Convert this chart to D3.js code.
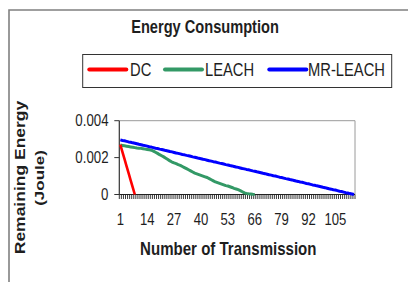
<!DOCTYPE html>
<html>
<head>
<meta charset="utf-8">
<script src="https://cdn.jsdelivr.net/npm/d3@7"></script>
<style>
body { margin: 0; background: #fff; }
svg { display: block; }
text { font-family: "Liberation Sans", Arial, sans-serif; fill: #1e1e1e; }
</style>
</head>
<body>
<svg id="myGraph" width="408" height="282"></svg>
<script>
// chart data
var categories = d3.range(1, 115);   // transmission number 1..114
var seriesNames = ["DC", "LEACH", "MR-LEACH"];
var seriesColors = ["#ff0000", "#339966", "#0000ff"];
var xTickLabels = [1, 14, 27, 40, 53, 66, 79, 92, 105];
var yTicks = [0, 0.002, 0.004];
var yTickLabels = ["0", "0.002", "0.004"];

var dcValues = [0.0027, 0.00231, 0.00193, 0.00154, 0.00116, 0.00077, 0.00039, 0];

var leachValues = [
  0.00268, 0.00266, 0.00264, 0.00262, 0.0026, 0.00258, 0.00256, 0.00254, 0.00252, 0.00251,
  0.0025, 0.00248, 0.00246, 0.00244, 0.00242, 0.0024, 0.00235, 0.00229, 0.00223, 0.00216,
  0.0021, 0.00204, 0.00197, 0.0019, 0.00182, 0.00176, 0.00171, 0.00167, 0.00162, 0.00158,
  0.00152, 0.00146, 0.0014, 0.00134, 0.00128, 0.00122, 0.00116, 0.00112, 0.00108, 0.00104,
  0.001, 0.00096, 0.00092, 0.00086, 0.0008, 0.00074, 0.00068, 0.00064, 0.0006, 0.00056,
  0.00052, 0.00048, 0.00046, 0.00042, 0.00038, 0.00033, 0.0003, 0.00026, 0.00021, 0.00015,
  0.00009, 0.00006, 0.00004, 0.00003, 0.00001, 0
];

var mrLeachValues = [
  0.00296, 0.00293, 0.00291, 0.00288, 0.00285, 0.00283, 0.0028, 0.00278, 0.00275, 0.00272,
  0.0027, 0.00267, 0.00265, 0.00262, 0.00259, 0.00257, 0.00254, 0.00251, 0.00249, 0.00246,
  0.00244, 0.00241, 0.00238, 0.00236, 0.00233, 0.00231, 0.00228, 0.00225, 0.00223, 0.0022,
  0.00217, 0.00215, 0.00212, 0.0021, 0.00207, 0.00204, 0.00202, 0.00199, 0.00196, 0.00194,
  0.00191, 0.00189, 0.00186, 0.00183, 0.00181, 0.00178, 0.00176, 0.00173, 0.0017, 0.00168,
  0.00165, 0.00162, 0.0016, 0.00157, 0.00155, 0.00152, 0.00149, 0.00147, 0.00144, 0.00141,
  0.00139, 0.00136, 0.00134, 0.00131, 0.00128, 0.00126, 0.00123, 0.00121, 0.00118, 0.00115,
  0.00113, 0.0011, 0.00107, 0.00105, 0.00102, 0.001, 0.00097, 0.00094, 0.00092, 0.00089,
  0.00086, 0.00084, 0.00081, 0.00079, 0.00076, 0.00073, 0.00071, 0.00068, 0.00066, 0.00063,
  0.0006, 0.00058, 0.00055, 0.00052, 0.0005, 0.00047, 0.00045, 0.00042, 0.00039, 0.00037,
  0.00034, 0.00031, 0.00029, 0.00026, 0.00024, 0.00021, 0.00018, 0.00016, 0.00013, 0.0001,
  0.00008, 0.00005, 0.00003, 0
];

var svg = d3.select("#myGraph");

// plot area
var plotLeft = 119.3, plotRight = 355, plotTop = 120.7, plotBottom = 194.5;

var xScale = d3.scaleBand().domain(categories).range([plotLeft, plotRight]);
var yScale = d3.scaleLinear().domain([0, 0.004]).range([plotBottom, plotTop]);
var bw = xScale.bandwidth();

// text that looks squeezed sideways like the source picture
function addText(x, y, str, size, bold, k, anchor, rotate) {
  var g = svg.append("g")
    .attr("transform", "translate(" + x + "," + y + ") scale(" + k + ",1)" + (rotate ? " rotate(-90)" : ""));
  g.append("text")
    .attr("text-anchor", anchor)
    .attr("font-size", size)
    .attr("font-weight", bold ? "bold" : "normal")
    .text(str);
  return g;
}

// outer frame (cropped)
svg.append("path")
  .attr("d", "M9,282 L9,10 L408,10")
  .attr("fill", "none")
  .attr("stroke", "#808080")
  .attr("stroke-width", 1.6);

// title
addText(205, 33, "Energy Consumption", 18.5, true, 0.79, "middle");

// legend
svg.append("rect")
  .attr("x", 82.7).attr("y", 54.5)
  .attr("width", 309).attr("height", 33)
  .attr("fill", "#fff")
  .attr("stroke", "#333")
  .attr("stroke-width", 1);

var legendLineX = [89.3, 165, 269.3];
var legendTextX = [130, 205, 308];
seriesNames.forEach(function (name, i) {
  svg.append("line")
    .attr("x1", legendLineX[i]).attr("x2", legendLineX[i] + 37)
    .attr("y1", 69.5).attr("y2", 69.5)
    .attr("stroke", seriesColors[i])
    .attr("stroke-width", 4)
    .attr("stroke-linecap", "round");
  addText(legendTextX[i], 76, name, 18, false, 0.82, "start");
});

// plot border (top + right)
svg.append("path")
  .attr("d", "M" + plotLeft + "," + plotTop + " L" + plotRight + "," + plotTop + " L" + plotRight + "," + plotBottom)
  .attr("fill", "none")
  .attr("stroke", "#9a9a9a")
  .attr("stroke-width", 1);

// y axis
svg.append("line")
  .attr("x1", plotLeft).attr("x2", plotLeft)
  .attr("y1", plotTop).attr("y2", plotBottom)
  .attr("stroke", "#333").attr("stroke-width", 1.2);
yTicks.forEach(function (v, i) {
  svg.append("line")
    .attr("x1", plotLeft - 5).attr("x2", plotLeft)
    .attr("y1", yScale(v)).attr("y2", yScale(v))
    .attr("stroke", "#333").attr("stroke-width", 1);
  addText(108.5, yScale(v) + 5.5, yTickLabels[i], 17, false, 0.78, "end");
});

// x axis with a tick at every category boundary
var xBounds = categories.map(function (c) { return xScale(c); }).concat([plotRight]);
svg.selectAll("line.xtick")
  .data(xBounds)
  .enter()
  .append("line")
  .attr("class", "xtick")
  .attr("x1", function (d) { return d; })
  .attr("x2", function (d) { return d; })
  .attr("y1", plotBottom)
  .attr("y2", plotBottom + 4.5)
  .attr("stroke", "#222")
  .attr("stroke-width", 0.9);
svg.append("line")
  .attr("x1", plotLeft).attr("x2", plotRight)
  .attr("y1", plotBottom).attr("y2", plotBottom)
  .attr("stroke", "#222").attr("stroke-width", 1.2);
xTickLabels.forEach(function (c) {
  addText(xScale(c) + bw / 2, 225, String(c), 17, false, 0.77, "middle");
});

// axis titles
addText(228.3, 255, "Number of Transmission", 17.5, true, 0.86, "middle");
addText(25, 177.5, "Remaining Energy", 17.5, true, 0.8, "middle", true);
addText(44, 178, "(Joule)", 17, true, 0.8, "middle", true);

// lines
var line = d3.line()
  .x(function (d, i) { return xScale(categories[i]) + bw / 2; })
  .y(function (d) { return yScale(d); });

var seriesData = [dcValues, leachValues, mrLeachValues];
var widths = [2.6, 3, 3];
// green first, then red, blue on top
[1, 0, 2].forEach(function (i) {
  svg.append("path")
    .attr("d", line(seriesData[i]))
    .attr("fill", "none")
    .attr("stroke", seriesColors[i])
    .attr("stroke-width", widths[i])
    .attr("stroke-linejoin", "round");
});
</script>
</body>
</html>
